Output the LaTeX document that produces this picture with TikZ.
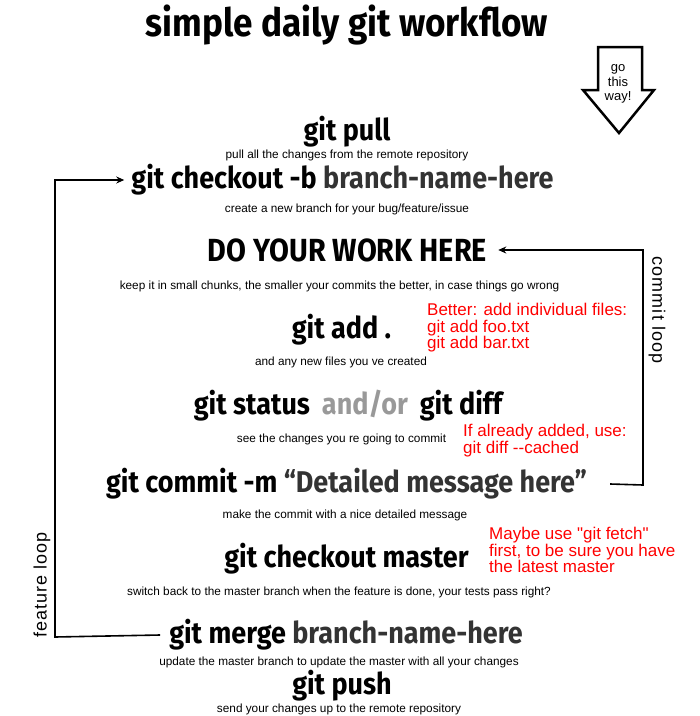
\documentclass[tikz,border=0pt]{standalone}
\usepackage{fontspec}
\setmainfont{Liberation Sans}
\newfontfamily\headfont[FakeStretch=0.9]{Fira Sans}
\usetikzlibrary{arrows.meta}
\definecolor{namegray}{gray}{0.2}
\definecolor{orgray}{gray}{0.6}

\begin{document}
\begin{tikzpicture}[x=1pt,y=-1pt,
  head/.style={font=\headfont\bfseries\fontsize{30}{34}\selectfont, inner sep=1pt},
  note/.style={font=\fontsize{11.8}{13}\selectfont, inner sep=1pt},
  hint/.style={text=red, align=left, anchor=north west, font=\fontsize{17}{16.5}\selectfont, inner sep=0pt},
  looplabel/.style={font=\addfontfeature{LetterSpace=6}\fontsize{18}{19}\selectfont},
  loopline/.style={line width=1.6pt, -{Stealth[length=8pt,width=7pt]}}]
\useasboundingbox (0,0) rectangle (700,716);
\node (title) [at={(347,25)}, head, font=\headfont\bfseries\fontsize{39}{44}\selectfont] {simple daily git workflow};
\draw [line width=2.5pt, line join=miter] (598,47) -- (642,47) -- (642,90) -- (654,90) -- (619,133) -- (583,90) -- (598,90) -- cycle;
\node (goway) [at={(618,84)}, align=center, font=\fontsize{13}{14.5}\selectfont] {go\\this\\way!};
\node (pull) [at={(347,132)}, head] {git pull};
\node (pulltxt) [at={(347,155)}, note] {pull all the changes from the remote repository};
\node (checkout) [at={(342.5,180)}, head] {git checkout -b \textcolor{namegray}{branch-name-here}};
\node (checktxt) [at={(347,209)}, note] {create a new branch for your bug/feature/issue};
\node (work) [at={(347.5,250)}, head, font=\headfont\bfseries\fontsize{32}{36}\selectfont] {DO YOUR WORK HERE};
\node (worktxt) [at={(339.5,286)}, note] {keep it in small chunks, the smaller your commits the better, in case things go wrong};
\node (add) [at={(341.5,330)}, head] {git add .};
\node (addtxt) [at={(341,362)}, note] {and any new files you ve created};
\node (addhint) [at={(427,303)}, hint] {Better: add individual files:\\git add foo.txt\\git add bar.txt};
\node (status) [at={(348,406)}, head] {git status\hspace{12pt}\textcolor{orgray}{and/or}\hspace{12pt}git diff};
\node (statustxt) [at={(341.5,439)}, note] {see the changes you re going to commit};
\node (diffhint) [at={(463,424)}, hint] {If already added, use:\\git diff -{}-cached};
\node (commit) [at={(346.5,484)}, head] {git commit -m \textcolor{namegray}{“Detailed message here”}};
\node (committxt) [at={(345,515)}, note] {make the commit with a nice detailed message};
\node (master) [at={(346.5,559)}, head] {git checkout master};
\node (mastertxt) [at={(339,592)}, note] {switch back to the master branch when the feature is done, your tests pass right?};
\node (fetchhint) [at={(489,527)}, hint] {Maybe use \textquotedbl git fetch\textquotedbl\\first, to be sure you have\\the latest master};
\node (merge) [at={(346,635)}, head] {git merge \textcolor{namegray}{branch-name-here}};
\node (mergetxt) [at={(339,662)}, note] {update the master branch to update the master with all your changes};
\node (push) [at={(342,686)}, head] {git push};
\node (pushtxt) [at={(339,709)}, note] {send your changes up to the remote repository};
\draw [loopline] ([xshift=-8]merge.west) -- (55,637) |- ([xshift=-6]checkout.west);
\node (featlabel) [at={(42,585)}, rotate=90, looplabel] {feature loop};
\draw [loopline] ([xshift=22]commit.east) -- (643,485) |- ([xshift=10]work.east);
\node (commitlabel) [at={(657,310)}, rotate=-90, looplabel] {commit loop};
\end{tikzpicture}
\end{document}
